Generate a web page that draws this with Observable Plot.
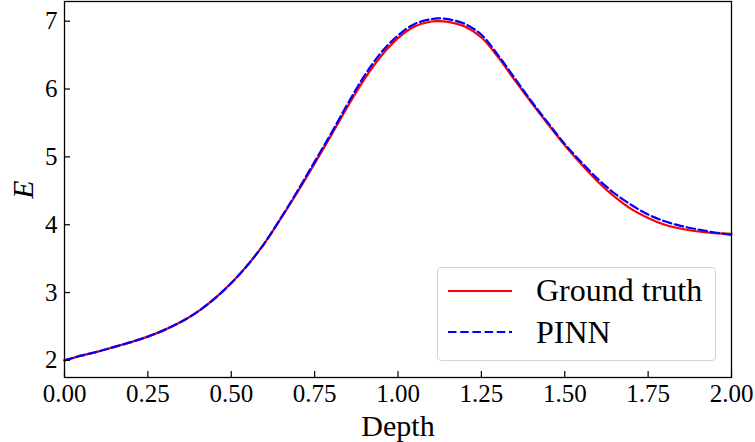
<!DOCTYPE html>
<html>
<head>
<meta charset="utf-8">
<script src="https://cdn.jsdelivr.net/npm/d3@7"></script>
<script src="https://cdn.jsdelivr.net/npm/@observablehq/plot@0.6"></script>
<style>
  html, body { margin: 0; padding: 0; background: #fff; }
  #wrap { position: relative; width: 755px; height: 442px; }
  #wrap svg text { font-family: "Liberation Serif", "DejaVu Serif", serif; }
  [aria-label="y-axis label"] text { font-style: italic; }
  #legend { position: absolute; left: 437px; top: 267px; width: 277px; height: 92px;
    border: 1px solid #d4d4d4; border-radius: 4px; background: rgba(255,255,255,0.85); }
  #legend text { font-family: "Liberation Serif", "DejaVu Serif", serif; font-size: 32px; fill: #000; }
</style>
</head>
<body>
<div id="wrap"></div>
<script>
const depth = [0.00,0.05,0.10,0.15,0.20,0.25,0.30,0.35,0.40,0.45,0.50,0.55,0.60,0.65,0.70,0.75,0.80,0.85,0.90,0.95,1.00,1.05,1.10,1.12,1.15,1.20,1.25,1.30,1.35,1.40,1.45,1.50,1.55,1.60,1.65,1.70,1.75,1.80,1.85,1.90,1.95,2.00];
const truth = [2.00,2.07,2.13,2.20,2.27,2.35,2.45,2.57,2.72,2.91,3.14,3.41,3.73,4.10,4.49,4.90,5.32,5.75,6.15,6.49,6.75,6.92,6.995,7.00,6.99,6.92,6.76,6.47,6.13,5.80,5.48,5.17,4.89,4.63,4.41,4.23,4.10,4.00,3.94,3.90,3.875,3.865];
const pinn  = [2.00,2.07,2.13,2.20,2.27,2.35,2.45,2.57,2.72,2.91,3.14,3.41,3.73,4.11,4.51,4.93,5.35,5.79,6.20,6.54,6.79,6.96,7.03,7.04,7.03,6.96,6.80,6.50,6.16,5.82,5.50,5.19,4.92,4.67,4.46,4.29,4.15,4.05,3.98,3.93,3.885,3.85];
const xTicks = [0,0.25,0.5,0.75,1,1.25,1.5,1.75,2];
const yTicks = [2,3,4,5,6,7];
const seriesNames = ["Ground truth", "PINN"];

const rows = depth.map((d, i) => ({depth: d, truth: truth[i], pinn: pinn[i]}));

const chart = Plot.plot({
  width: 755,
  height: 442,
  marginLeft: 64,
  marginRight: 24,
  marginTop: 1,
  marginBottom: 65,
  style: {background: "#fff", color: "#000", fontFamily: "Liberation Serif, serif"},
  x: {domain: [0, 2]},
  y: {domain: [1.748, 7.29]},
  marks: [
    Plot.line(rows, {x: "depth", y: "truth", stroke: "#ff0000", strokeWidth: 2.2, curve: "catmull-rom"}),
    Plot.line(rows, {x: "depth", y: "pinn", stroke: "#0000ff", strokeWidth: 2.2, strokeDasharray: "8.5,3.7", curve: "catmull-rom"}),
    Plot.axisX(xTicks, {tickSize: 0, tickPadding: 7, tickFormat: d3.format(".2f"), fontSize: 25, label: "Depth", labelAnchor: "center", labelArrow: "none", labelOffset: 58}),
    Plot.axisX(xTicks, {tickSize: -6, fill: "none", label: null, strokeWidth: 1.2}),
    Plot.axisY(yTicks, {tickSize: 0, tickPadding: 7, tickFormat: d3.format("d"), fontSize: 25, label: "E", labelAnchor: "center", labelArrow: "none", labelOffset: 53}),
    Plot.axisY(yTicks, {tickSize: -6, fill: "none", label: null, strokeWidth: 1.2}),
    Plot.frame({stroke: "#000", strokeWidth: 1.3})
  ]
});
chart.querySelectorAll('[aria-label="x-axis label"] text, [aria-label="y-axis label"] text').forEach(t => t.setAttribute("font-size", "30"));
document.getElementById("wrap").appendChild(chart);

// legend
const legend = document.createElement("div");
legend.id = "legend";
legend.innerHTML = `<svg width="277" height="92" xmlns="http://www.w3.org/2000/svg">
  <line x1="10" x2="74" y1="23" y2="23" stroke="#ff0000" stroke-width="2.2"/>
  <line x1="10" x2="74" y1="64" y2="64" stroke="#0000ff" stroke-width="2.2" stroke-dasharray="8.5,3.7"/>
  <text x="98" y="33">${seriesNames[0]}</text>
  <text x="98" y="75">${seriesNames[1]}</text>
</svg>`;
document.getElementById("wrap").appendChild(legend);
</script>
</body>
</html>
